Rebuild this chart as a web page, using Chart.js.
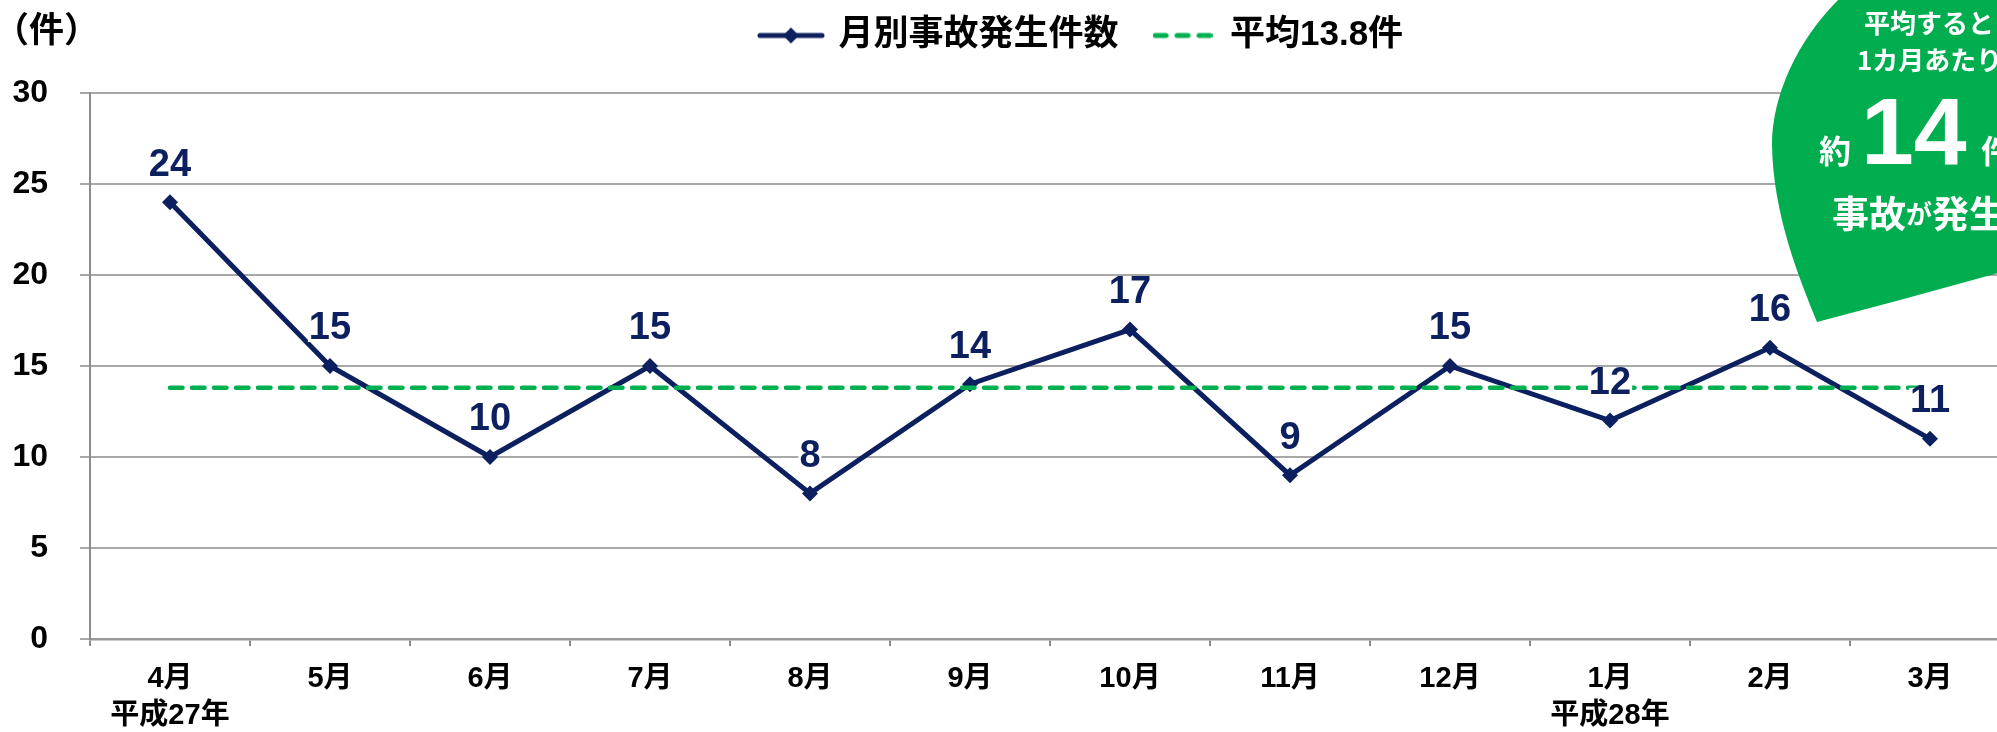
<!DOCTYPE html>
<html lang="ja">
<head>
<meta charset="utf-8">
<title>月別事故発生件数</title>
<script src="https://cdn.jsdelivr.net/npm/chart.js@4.4.1/dist/chart.umd.min.js"></script>
<style>
  html, body { margin: 0; padding: 0; background: #fff; overflow: hidden; }
  #wrap { position: relative; width: 2020px; height: 732px; }
</style>
</head>
<body>
<div id="wrap"><canvas id="chart" width="2020" height="732"></canvas></div>
<script>
// data
const months = ["4月", "5月", "6月", "7月", "8月", "9月", "10月", "11月", "12月", "1月", "2月", "3月"];
const eraNotes = ["平成27年", "", "", "", "", "", "", "", "", "平成28年", "", ""];
const accidents = [24, 15, 10, 15, 8, 14, 17, 9, 15, 12, 16, 11];
const averageLine = [13.8, 13.8, 13.8, 13.8, 13.8, 13.8, 13.8, 13.8, 13.8, 13.8, 13.8, 13.8];
const seriesName = "月別事故発生件数";
const averageName = "平均13.8件";
const unitLabel = "（件）";

const FONT = "'Liberation Sans', Arial, 'Noto Sans CJK JP', sans-serif";
const CJK = "'Noto Sans CJK JP', 'Liberation Sans', sans-serif";
const NAVY = "#0c1f5f";
const GREEN = "#00b050";
const BADGE = "#00ad4f";

// legend icons (line + diamond, dashed line)
function lineIcon() {
  const c = document.createElement("canvas");
  c.width = 68; c.height = 18;
  const g = c.getContext("2d");
  g.strokeStyle = NAVY; g.lineWidth = 5; g.lineCap = "round";
  g.beginPath(); g.moveTo(3, 9); g.lineTo(65, 9); g.stroke();
  g.fillStyle = NAVY;
  g.beginPath(); g.moveTo(34, 1); g.lineTo(42, 9); g.lineTo(34, 17); g.lineTo(26, 9); g.closePath(); g.fill();
  return c;
}
function dashIcon() {
  const c = document.createElement("canvas");
  c.width = 60; c.height = 8;
  const g = c.getContext("2d");
  g.strokeStyle = GREEN; g.lineWidth = 5; g.lineCap = "round";
  g.setLineDash([11, 11]);
  g.beginPath(); g.moveTo(2.5, 4); g.lineTo(58, 4); g.stroke();
  return c;
}
const icons = [lineIcon(), dashIcon()];

const legendPlacement = {
  id: "legendPlacement",
  afterLayout(chart) {
    const lg = chart.legend;
    const dx = 727 - lg.left, dy = -16 - lg.top;
    lg.left += dx; lg.right += dx; lg.top += dy; lg.bottom += dy;
  }
};

const pointLabels = {
  id: "pointLabels",
  afterDatasetsDraw(chart) {
    const ctx = chart.ctx;
    const meta = chart.getDatasetMeta(0);
    ctx.save();
    ctx.font = "bold 38px " + FONT;
    ctx.textAlign = "center";
    ctx.textBaseline = "middle";
    meta.data.forEach((pt, i) => {
      const txt = String(accidents[i]);
      const w = ctx.measureText(txt).width;
      const cy = pt.y - 38;
      ctx.fillStyle = "#fff";
      ctx.fillRect(pt.x - w / 2 - 1, cy - 13, w + 2, 27);
      ctx.fillStyle = NAVY;
      ctx.fillText(txt, pt.x, cy + 1);
    });
    ctx.restore();
  }
};

function seq(ctx, parts, x, y) {
  parts.forEach(p => {
    ctx.font = p[1];
    ctx.fillText(p[0], x, y);
    x += ctx.measureText(p[0]).width + (p[2] || 0);
  });
}

const extras = {
  id: "extras",
  afterDraw(chart) {
    const ctx = chart.ctx;
    ctx.save();
    ctx.textBaseline = "middle";
    ctx.textAlign = "left";
    ctx.fillStyle = "#000";
    ctx.font = "bold 35px " + CJK;
    ctx.fillText(unitLabel, -6, 29);

    // green callout
    ctx.fillStyle = BADGE;
    ctx.beginPath();
    ctx.moveTo(1838, 0);
    ctx.bezierCurveTo(1798, 40, 1772, 95, 1772, 145);
    ctx.bezierCurveTo(1773, 215, 1800, 280, 1817, 322);
    ctx.lineTo(1900, 300);
    ctx.lineTo(2020, 267);
    ctx.lineTo(2020, 0);
    ctx.closePath();
    ctx.fill();

    ctx.fillStyle = "#fff";
    seq(ctx, [["平均すると", "bold 26px " + CJK]], 1864, 23);
    seq(ctx, [["1カ月あたり", "bold 26px " + CJK]], 1857, 60);
    seq(ctx, [["約", "bold 32px " + CJK, 12]], 1819, 151);
    ctx.textBaseline = "alphabetic";
    seq(ctx, [["14", "bold 95px " + FONT]], 1861, 164);
    ctx.textBaseline = "middle";
    seq(ctx, [["件", "bold 32px " + CJK]], 1981, 151);
    seq(ctx, [["事故", "bold 37px " + CJK], ["が", "bold 26px " + CJK], ["発生", "bold 37px " + CJK]], 1832, 214);
    ctx.restore();
  }
};

new Chart(document.getElementById("chart"), {
  type: "line",
  data: {
    labels: months,
    datasets: [
      {
        label: seriesName,
        data: accidents,
        borderColor: NAVY,
        backgroundColor: NAVY,
        borderWidth: 5,
        pointStyle: "rectRot",
        pointRadius: 8,
        pointBorderWidth: 0,
        pointBackgroundColor: NAVY,
        tension: 0,
        order: 1
      },
      {
        label: averageName,
        data: averageLine,
        borderColor: GREEN,
        borderWidth: 4.5,
        borderDash: [12.5, 9.5],
        borderCapStyle: "round",
        pointRadius: 0,
        order: 0
      }
    ]
  },
  options: {
    responsive: false,
    animation: false,
    devicePixelRatio: 1,
    events: [],
    layout: { padding: { top: 14, right: 10, left: 0, bottom: 0 } },
    plugins: {
      tooltip: { enabled: false },
      legend: {
        position: "top",
        align: "start",
        labels: {
          usePointStyle: true,
          pointStyleWidth: 60,
          padding: 34,
          color: "#000",
          font: { family: FONT, size: 35, weight: "bold" },
          generateLabels: chart => chart.data.datasets.map((ds, i) => ({
            text: ds.label,
            pointStyle: icons[i],
            fontColor: "#000",
            fillStyle: "transparent",
            strokeStyle: "transparent",
            lineWidth: 0,
            hidden: false,
            datasetIndex: i
          }))
        }
      }
    },
    scales: {
      x: {
        offset: true,
        grid: { offset: true, drawOnChartArea: false, drawTicks: true, tickLength: 7, color: "#8c8c8c", lineWidth: 2 },
        border: { color: "#999", width: 2.5 },
        afterFit: s => { s.height = 93; },
        ticks: {
          autoSkip: false,
          maxRotation: 0,
          padding: 15,
          color: "#000",
          font: { family: FONT, size: 29, weight: "bold", lineHeight: 1.27 },
          callback: (v, i) => eraNotes[i] ? [months[i], eraNotes[i]] : months[i]
        }
      },
      y: {
        min: 0,
        max: 30,
        afterFit: s => { s.width = 90; },
        grid: { color: "#a8a8a8", lineWidth: 2, tickLength: 10 },
        border: { color: "#8c8c8c", width: 2 },
        ticks: {
          stepSize: 5,
          padding: 32,
          color: "#000",
          font: { family: FONT, size: 32, weight: "bold" }
        }
      }
    }
  },
  plugins: [legendPlacement, pointLabels, extras]
});
</script>
</body>
</html>
